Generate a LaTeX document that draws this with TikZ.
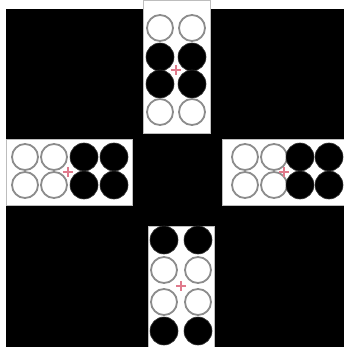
\documentclass[tikz,border=0pt]{standalone}
\usetikzlibrary{positioning}
\definecolor{plategray}{HTML}{BDBDBD}
\definecolor{ringgray}{HTML}{8C8C8C}
\definecolor{crossred}{HTML}{E07A8C}
\begin{document}
\begin{tikzpicture}[x=1pt,y=-1pt,
  plate/.style={fill=white,draw=plategray,line width=0.8pt},
  empty/.style={circle,draw=ringgray,fill=white,line width=1.8pt,minimum size=26pt,inner sep=0pt},
  full/.style={circle,fill=black,draw=black!80,line width=0.6pt,minimum size=28pt,inner sep=0pt},
  centremark/.style={crossred,line width=1.1pt}]
\useasboundingbox (0,0) rectangle (344,347);
\fill[black] (6,9) rectangle (344,347);
% top plate
\draw[plate] (143,0) rectangle (210,133);
\node[empty] (t1) at (160,28) {}; \node[empty] (t2) at (192,28) {};
\node[full] (t3) at (160,57) {}; \node[full] (t4) at (192,57) {};
\node[full] (t5) at (160,84) {}; \node[full] (t6) at (192,84) {};
\node[empty] (t7) at (160,112) {}; \node[empty] (t8) at (192,112) {};
\draw[centremark] (176,65)--(176,75) (171,70)--(181,70);
% left plate
\draw[plate] (6,139) rectangle (132,205);
\node[empty] (l1) at (25,157) {}; \node[empty] (l2) at (54,157) {};
\node[full] (l3) at (84,157) {}; \node[full] (l4) at (114,157) {};
\node[empty] (l5) at (25,185) {}; \node[empty] (l6) at (54,185) {};
\node[full] (l7) at (84,185) {}; \node[full] (l8) at (114,185) {};
\draw[centremark] (68,167)--(68,177) (63,172)--(73,172);
% right plate
\draw[plate] (222,139) rectangle (344,205);
\node[empty] (r1) at (245,157) {}; \node[empty] (r2) at (274,157) {};
\node[full] (r3) at (300,157) {}; \node[full] (r4) at (329,157) {};
\node[empty] (r5) at (245,185) {}; \node[empty] (r6) at (274,185) {};
\node[full] (r7) at (300,185) {}; \node[full] (r8) at (329,185) {};
\draw[centremark] (284,167)--(284,177) (279,172)--(289,172);
% bottom plate
\draw[plate] (148,226) rectangle (214,347);
\node[full] (b1) at (164,240) {}; \node[full] (b2) at (198,240) {};
\node[empty] (b3) at (164,270) {}; \node[empty] (b4) at (198,270) {};
\node[empty] (b5) at (164,302) {}; \node[empty] (b6) at (198,302) {};
\node[full] (b7) at (164,331) {}; \node[full] (b8) at (198,331) {};
\draw[centremark] (181,281)--(181,291) (176,286)--(186,286);
\end{tikzpicture}
\end{document}
